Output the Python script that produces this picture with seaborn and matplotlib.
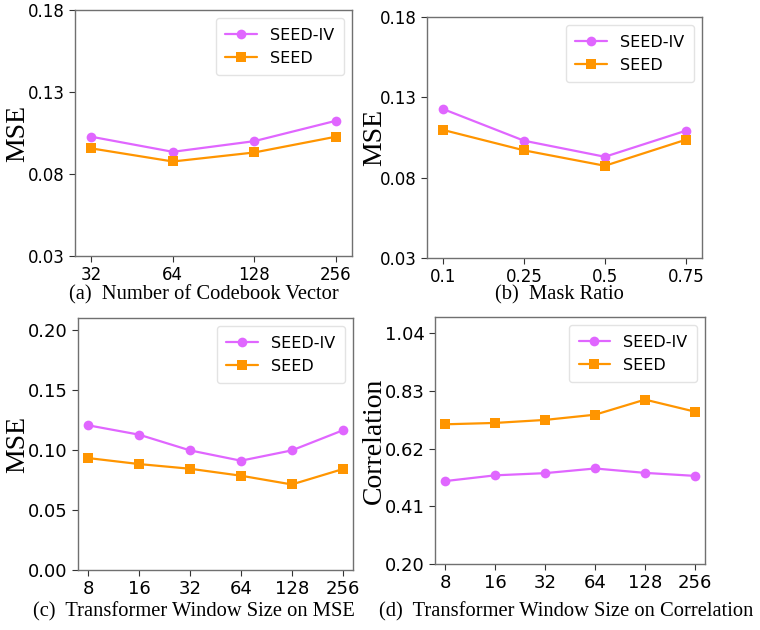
import matplotlib
matplotlib.use("Agg")
import matplotlib.pyplot as plt
import seaborn as sns
import pandas as pd

sns.set_style("ticks")
plt.rcParams['font.family'] = ['DejaVu Sans']
plt.rcParams['axes.edgecolor'] = '#707070'
plt.rcParams['axes.linewidth'] = 1.0
plt.rcParams['text.color'] = 'black'
plt.rcParams['axes.labelcolor'] = 'black'
plt.rcParams['xtick.color'] = 'black'
plt.rcParams['ytick.color'] = 'black'

# data
codebook_sizes = ['32', '64', '128', '256']
codebook_seed_iv = [0.1027, 0.0935, 0.1000, 0.1124]
codebook_seed = [0.0956, 0.0876, 0.0931, 0.1027]

mask_ratios = ['0.1', '0.25', '0.5', '0.75']
mask_seed_iv = [0.1227, 0.1030, 0.0930, 0.1092]
mask_seed = [0.1097, 0.0970, 0.0874, 0.1036]

window_sizes = ['8', '16', '32', '64', '128', '256']
window_mse_seed_iv = [0.1206, 0.1128, 0.0997, 0.0911, 0.0997, 0.1164]
window_mse_seed = [0.0933, 0.0883, 0.0844, 0.0786, 0.0713, 0.0841]
window_corr_seed_iv = [0.502, 0.523, 0.531, 0.548, 0.532, 0.521]
window_corr_seed = [0.709, 0.714, 0.725, 0.744, 0.799, 0.755]

series_names = ['SEED-IV', 'SEED']
palette = {'SEED-IV': '#E066FF', 'SEED': '#FF9500'}
markers = {'SEED-IV': 'o', 'SEED': 's'}

serif = ['Liberation Serif', 'DejaVu Serif']


def make_df(xs, a, b):
    return pd.DataFrame({
        'x': xs + xs,
        'y': a + b,
        'dataset': ['SEED-IV'] * len(xs) + ['SEED'] * len(xs),
    })


def draw(ax, xs, a, b, yticks, ylim, ylabel, label_x, tick_size):
    df = make_df(xs, a, b)
    sns.lineplot(data=df, x='x', y='y', hue='dataset', style='dataset',
                 hue_order=series_names, style_order=series_names,
                 palette=palette, markers=markers, dashes=False,
                 markersize=7, linewidth=1.6, markeredgewidth=0,
                 sort=False, ax=ax)
    ax.set_xlim(-0.2, len(xs) - 0.8)
    ax.set_ylim(*ylim)
    ax.set_yticks(yticks)
    ax.set_yticklabels(['{:.2f}'.format(t) for t in yticks])
    ax.tick_params(labelsize=tick_size, length=4, color='#333333')
    ax.set_xlabel('')
    ax.set_ylabel(ylabel, fontsize=20, family=serif)
    ax.yaxis.set_label_coords(label_x, 0.5)
    leg = ax.legend(loc='upper right', fontsize=11.5, frameon=True,
                    handlelength=2.0, borderpad=0.6)
    leg.get_frame().set_edgecolor('#dddddd')
    for s in ax.spines.values():
        s.set_visible(True)


fig = plt.figure(figsize=(7.6, 6.3), dpi=100)
ax_a = fig.add_axes([0.0987, 0.5937, 0.3645, 0.3905])
ax_b = fig.add_axes([0.5618, 0.5905, 0.3618, 0.3825])
ax_c = fig.add_axes([0.1026, 0.0952, 0.3618, 0.4000])
ax_d = fig.add_axes([0.5724, 0.1048, 0.3553, 0.3920])

draw(ax_a, codebook_sizes, codebook_seed_iv, codebook_seed,
     [0.03, 0.08, 0.13, 0.18], (0.03, 0.18), 'MSE', -0.16, 12)
draw(ax_b, mask_ratios, mask_seed_iv, mask_seed,
     [0.03, 0.08, 0.13, 0.18], (0.03, 0.18), 'MSE', -0.145, 12)
draw(ax_c, window_sizes, window_mse_seed_iv, window_mse_seed,
     [0.00, 0.05, 0.10, 0.15, 0.20], (0.0, 0.21), 'MSE', -0.175, 13)
draw(ax_d, window_sizes, window_corr_seed_iv, window_corr_seed,
     [0.20, 0.41, 0.62, 0.83, 1.04], (0.20, 1.10), 'Correlation', -0.178, 13)

fig.text(204 / 760, 1 - 295 / 630, '(a)  Number of Codebook Vector',
         ha='center', va='center', fontsize=14.8, family=serif)
fig.text(559 / 760, 1 - 295 / 630, '(b)  Mask Ratio',
         ha='center', va='center', fontsize=14.8, family=serif)
fig.text(194 / 760, 1 - 612 / 630, '(c)  Transformer Window Size on MSE',
         ha='center', va='center', fontsize=14.8, family=serif)
fig.text(566 / 760, 1 - 612 / 630, '(d)  Transformer Window Size on Correlation',
         ha='center', va='center', fontsize=14.8, family=serif)

fig.savefig('out.png', dpi=100)
